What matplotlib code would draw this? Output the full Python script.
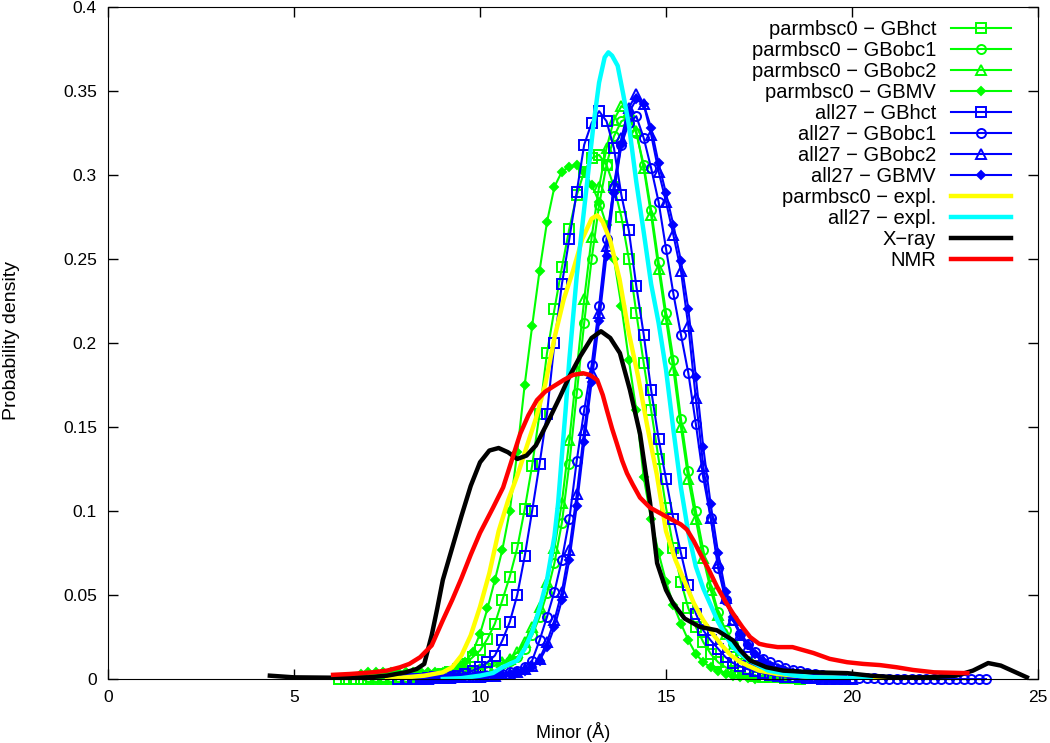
import numpy as np
import matplotlib
matplotlib.use("Agg")
import matplotlib.pyplot as plt

plt.rcParams['font.family'] = ['Liberation Sans', 'DejaVu Sans']

# sampled series (step 0.2 A), start value + y values
step = 0.2

bsc0_hct_x0 = 6.2
bsc0_hct = [0, 0, 0, 0, 0, 0, 0, 0, 0.0005, 0.0005, 0.001, 0.001, 0.0015, 0.002, 0.003, 0.004,
            0.006, 0.009, 0.013, 0.017, 0.024, 0.033, 0.047, 0.061, 0.078, 0.101, 0.127, 0.158,
            0.194, 0.22, 0.245, 0.268, 0.288, 0.302, 0.31, 0.312, 0.306, 0.293, 0.275, 0.25,
            0.218, 0.188, 0.16, 0.131, 0.102, 0.078, 0.058, 0.042, 0.031, 0.022, 0.015, 0.01,
            0.007, 0.005, 0.004, 0.003, 0.002, 0.0015, 0.001, 0.001, 0.0005, 0.0005, 0]

bsc0_obc1_x0 = 7.0
bsc0_obc1 = [0.001, 0.001, 0.001, 0.001, 0.0015, 0.0015, 0.002, 0.002, 0.0025, 0.003, 0.003,
             0.0035, 0.004, 0.0045, 0.005, 0.006, 0.007, 0.008, 0.009, 0.011, 0.013, 0.018,
             0.026, 0.037, 0.051, 0.069, 0.093, 0.128, 0.17, 0.212, 0.25, 0.282, 0.306, 0.323,
             0.332, 0.334, 0.325, 0.306, 0.279, 0.248, 0.218, 0.19, 0.155, 0.124, 0.1, 0.077,
             0.056, 0.04, 0.029, 0.021, 0.015, 0.011, 0.008, 0.006, 0.004, 0.003, 0.002, 0.0015,
             0.001, 0.0005, 0.0005]

bsc0_obc2_x0 = 7.2
bsc0_obc2 = [0.001, 0.001, 0.001, 0.0015, 0.0015, 0.002, 0.002, 0.0025, 0.003, 0.003, 0.0035,
             0.004, 0.0045, 0.005, 0.006, 0.007, 0.008, 0.01, 0.012, 0.016, 0.022, 0.031, 0.043,
             0.058, 0.078, 0.105, 0.142, 0.184, 0.226, 0.263, 0.293, 0.316, 0.333, 0.341, 0.338,
             0.326, 0.304, 0.276, 0.244, 0.214, 0.184, 0.15, 0.119, 0.095, 0.072, 0.053, 0.038,
             0.027, 0.019, 0.014, 0.01, 0.007, 0.005, 0.0035, 0.0025, 0.0015, 0.001, 0.0005]

bsc0_gbmv_x0 = 6.8
bsc0_gbmv = [0.003, 0.004, 0.004, 0.004, 0.004, 0.004, 0.004, 0.004, 0.004, 0.004, 0.004, 0.004,
             0.005, 0.007, 0.01, 0.016, 0.027, 0.042, 0.059, 0.077, 0.1, 0.135, 0.175, 0.21,
             0.243, 0.272, 0.293, 0.302, 0.305, 0.306, 0.302, 0.294, 0.284, 0.27, 0.25, 0.222,
             0.19, 0.16, 0.12, 0.095, 0.075, 0.058, 0.044, 0.033, 0.023, 0.015, 0.01, 0.007,
             0.005, 0.003, 0.002, 0.001, 0.0005, 0]

a27_hct_x0 = 7.8
a27_hct = [0, 0, 0, 0, 0.0005, 0.001, 0.001, 0.0015, 0.002, 0.003, 0.005, 0.007, 0.01, 0.014,
           0.023, 0.034, 0.05, 0.073, 0.1, 0.128, 0.158, 0.2, 0.235, 0.262, 0.29, 0.318, 0.331,
           0.338, 0.332, 0.316, 0.288, 0.267, 0.234, 0.205, 0.172, 0.143, 0.119, 0.095, 0.075,
           0.056, 0.039, 0.029, 0.023, 0.018, 0.013, 0.0095, 0.0075, 0.0058, 0.0045, 0.0035,
           0.0025, 0.002, 0.0015, 0.001, 0.001, 0.0005, 0.0005, 0, 0, 0, 0]

a27_obc1_x0 = 8.0
a27_obc1 = [0, 0, 0, 0.0005, 0.0005, 0.0005, 0.001, 0.001, 0.001, 0.0015, 0.0015, 0.002, 0.0025,
            0.003, 0.004, 0.005, 0.007, 0.011, 0.023, 0.037, 0.052, 0.071, 0.095, 0.13, 0.16,
            0.187, 0.222, 0.262, 0.293, 0.318, 0.331, 0.335, 0.322, 0.304, 0.284, 0.256, 0.229,
            0.205, 0.182, 0.152, 0.12, 0.096, 0.066, 0.047, 0.035, 0.027, 0.021, 0.016, 0.012,
            0.01, 0.0085, 0.0068, 0.0055, 0.0045, 0.0036, 0.0028, 0.0022, 0.0017, 0.0013, 0.001,
            0.0008, 0.0006, 0.0005, 0.0004, 0.0003, 0.0003, 0.0002, 0.0002, 0.0001, 0.0001,
            0, 0, 0, 0, 0, 0, 0, 0, 0]

a27_obc2_x0 = 8.2
a27_obc2 = [0, 0, 0, 0.0005, 0.0005, 0.0005, 0.001, 0.001, 0.001, 0.0015, 0.002, 0.002, 0.003,
            0.003, 0.004, 0.006, 0.008, 0.012, 0.022, 0.035, 0.052, 0.077, 0.11, 0.148, 0.182,
            0.218, 0.258, 0.294, 0.322, 0.34, 0.348, 0.342, 0.324, 0.302, 0.284, 0.264, 0.243,
            0.21, 0.167, 0.127, 0.096, 0.069, 0.048, 0.035, 0.026, 0.019, 0.014, 0.011, 0.008,
            0.006, 0.0045, 0.0035, 0.0025, 0.002, 0.0015, 0.001, 0.001, 0.0005, 0.0005, 0]

a27_gbmv_x0 = 8.4
a27_gbmv = [0, 0, 0.0005, 0.0005, 0.0005, 0.001, 0.001, 0.001, 0.0015, 0.002, 0.002, 0.0025,
            0.003, 0.004, 0.005, 0.007, 0.011, 0.019, 0.031, 0.047, 0.071, 0.103, 0.141, 0.177,
            0.213, 0.252, 0.289, 0.318, 0.337, 0.345, 0.342, 0.328, 0.307, 0.289, 0.27, 0.249,
            0.22, 0.18, 0.138, 0.104, 0.075, 0.052, 0.037, 0.027, 0.02, 0.015, 0.011, 0.008,
            0.006, 0.0045, 0.0035, 0.0025, 0.002, 0.0015, 0.001, 0.0005, 0.0005, 0]

# smooth curves (x, y)
bsc0_expl_x = [7.5, 8.0, 8.5, 9.0, 9.25, 9.5, 9.75, 10.0, 10.25, 10.5, 10.75, 11.0, 11.25, 11.5,
               11.75, 12.0, 12.25, 12.5, 12.75, 13.0, 13.15, 13.3, 13.5, 13.75, 14.0, 14.25, 14.5,
               14.75, 15.0, 15.25, 15.5, 15.75, 16.0, 16.25, 16.5, 16.75, 17.0, 17.5, 18.0, 19.0,
               20.0, 21.4]
bsc0_expl_y = [0.0, 0.001, 0.002, 0.004, 0.007, 0.014, 0.026, 0.043, 0.063, 0.088, 0.106, 0.121,
               0.138, 0.155, 0.175, 0.203, 0.226, 0.243, 0.262, 0.274, 0.276, 0.272, 0.261, 0.238,
               0.206, 0.18, 0.15, 0.122, 0.088, 0.071, 0.058, 0.045, 0.035, 0.027, 0.02, 0.014,
               0.01, 0.005, 0.003, 0.001, 0.0005, 0.0]

a27_expl_x = [9.0, 9.5, 10.0, 10.35, 10.6, 10.8, 11.0, 11.2, 11.4, 11.6, 11.8, 12.0, 12.1, 12.2,
              12.3, 12.4, 12.5, 12.6, 12.75, 12.9, 13.05, 13.2, 13.35, 13.45, 13.55, 13.7, 13.85,
              14.0, 14.2, 14.4, 14.6, 14.8, 15.0, 15.2, 15.4, 15.6, 15.8, 16.0, 16.2, 16.4, 16.6,
              16.8, 17.0, 17.25, 17.5, 17.75, 18.0, 18.5, 19.0, 20.0, 20.5]
a27_expl_y = [0.0, 0.0005, 0.002, 0.0036, 0.007, 0.009, 0.011, 0.018, 0.028, 0.042, 0.059, 0.085,
              0.105, 0.133, 0.16, 0.19, 0.215, 0.24, 0.27, 0.3, 0.33, 0.355, 0.37, 0.373, 0.371,
              0.365, 0.348, 0.33, 0.296, 0.266, 0.235, 0.212, 0.184, 0.148, 0.114, 0.087, 0.067,
              0.054, 0.044, 0.034, 0.026, 0.019, 0.015, 0.011, 0.008, 0.005, 0.004, 0.002, 0.001,
              0.0005, 0.0]

xray_x = [4.35, 5.0, 6.0, 7.0, 7.5, 8.0, 8.3, 8.5, 8.7, 8.85, 9.0, 9.25, 9.5, 9.75, 10.0, 10.25,
          10.5, 10.75, 11.0, 11.25, 11.5, 11.8, 12.15, 12.4, 12.69, 13.0, 13.25, 13.5, 13.76,
          14.03, 14.3, 14.57, 14.76, 15.0, 15.19, 15.5, 15.91, 16.37, 16.8, 17.0, 17.26, 17.7,
          18.15, 19.0, 19.87, 20.5, 21.2, 22.0, 22.8, 23.25, 23.66, 24.0, 24.4, 24.7]
xray_y = [0.002, 0.001, 0.0008, 0.001, 0.002, 0.004, 0.006, 0.009, 0.026, 0.042, 0.059, 0.078,
          0.097, 0.115, 0.129, 0.136, 0.1375, 0.135, 0.131, 0.133, 0.139, 0.152, 0.168, 0.18,
          0.192, 0.203, 0.207, 0.203, 0.194, 0.172, 0.146, 0.105, 0.069, 0.053, 0.045, 0.036,
          0.031, 0.029, 0.023, 0.017, 0.011, 0.007, 0.005, 0.004, 0.0035, 0.002, 0.001, 0.001,
          0.002, 0.005, 0.0095, 0.008, 0.004, 0.001]

nmr_x = [6.05, 6.5, 7.12, 7.5, 7.85, 8.1, 8.39, 8.7, 9.0, 9.25, 9.5, 9.75, 10.0, 10.35, 10.62,
         10.85, 11.08, 11.3, 11.53, 11.75, 11.96, 12.25, 12.5, 12.77, 12.95, 13.15, 13.3, 13.41,
         13.55, 13.68, 13.82, 13.95, 14.1, 14.3, 14.57, 14.9, 15.19, 15.4, 15.56, 15.75, 15.91,
         16.15, 16.37, 16.6, 16.8, 17.05, 17.26, 17.5, 17.7, 18.0, 18.4, 18.96, 19.4, 19.87,
         20.3, 20.75, 21.2, 21.64, 22.2, 23.1]
nmr_y = [0.0025, 0.003, 0.004, 0.005, 0.007, 0.009, 0.013, 0.02, 0.035, 0.047, 0.06, 0.074,
         0.087, 0.102, 0.114, 0.13, 0.146, 0.157, 0.166, 0.171, 0.174, 0.178, 0.181, 0.182,
         0.181, 0.178, 0.169, 0.16, 0.149, 0.14, 0.13, 0.1225, 0.116, 0.108, 0.102, 0.098,
         0.0945, 0.092, 0.089, 0.082, 0.075, 0.065, 0.055, 0.046, 0.039, 0.031, 0.025, 0.021,
         0.02, 0.019, 0.019, 0.0155, 0.012, 0.01, 0.009, 0.0083, 0.007, 0.0054, 0.004, 0.0035]

labels = ['parmbsc0 \u2212 GBhct', 'parmbsc0 \u2212 GBobc1', 'parmbsc0 \u2212 GBobc2',
          'parmbsc0 \u2212 GBMV', 'all27 \u2212 GBhct', 'all27 \u2212 GBobc1',
          'all27 \u2212 GBobc2', 'all27 \u2212 GBMV', 'parmbsc0 \u2212 expl.',
          'all27 \u2212 expl.', 'X\u2212ray', 'NMR']

xticks = [0, 5, 10, 15, 20, 25]
yticks = [0, 0.05, 0.1, 0.15, 0.2, 0.25, 0.3, 0.35, 0.4]
ytick_labels = ['0', '0.05', '0.1', '0.15', '0.2', '0.25', '0.3', '0.35', '0.4']

green = '#00ff00'
blue = '#0000ff'

fig = plt.figure(figsize=(10.5, 7.43), dpi=100)
ax = fig.add_axes([0.1029, 0.0861, 0.8857, 0.9045])

marked = [
    (bsc0_hct_x0, bsc0_hct, green, 's', 6.5, 'none'),
    (bsc0_obc1_x0, bsc0_obc1, green, 'o', 6.5, 'none'),
    (bsc0_obc2_x0, bsc0_obc2, green, '^', 7, 'none'),
    (bsc0_gbmv_x0, bsc0_gbmv, green, 'D', 3.8, green),
    (a27_hct_x0, a27_hct, blue, 's', 6.5, 'none'),
    (a27_obc1_x0, a27_obc1, blue, 'o', 6.5, 'none'),
    (a27_obc2_x0, a27_obc2, blue, '^', 7, 'none'),
    (a27_gbmv_x0, a27_gbmv, blue, 'D', 3.8, blue),
]
for i, (x0, yv, c, m, ms, fc) in enumerate(marked):
    xv = x0 + step * np.arange(len(yv))
    ax.plot(xv, yv, color=c, lw=1.5, marker=m, ms=ms, mfc=fc, mec=c, mew=1.4,
            label=labels[i], clip_on=False)

ax.plot(bsc0_expl_x, bsc0_expl_y, color='#ffff00', lw=3.2, label=labels[8])
ax.plot(a27_expl_x, a27_expl_y, color='#00ffff', lw=3.2, label=labels[9])
ax.plot(xray_x, xray_y, color='black', lw=3.2, label=labels[10], clip_on=False)
ax.plot(nmr_x, nmr_y, color='#ff0000', lw=3.2, label=labels[11])

ax.set_xlim(0, 25)
ax.set_ylim(0, 0.4)
ax.set_xticks(xticks)
ax.set_yticks(yticks)
ax.set_yticklabels(ytick_labels)
ax.tick_params(direction='in', top=True, right=True, length=7, width=1, labelsize=12.5, pad=8)
ax.set_xlabel('Minor (\u00c5)', fontsize=13, labelpad=12)
fig.text(0.011, 0.542, 'Probability density', rotation=90, ha='center', va='center',
         fontsize=14)

ax.legend(loc='upper right', bbox_to_anchor=(0.9796, 0.993), borderaxespad=0,
          frameon=False, markerfirst=False, numpoints=1, fontsize=14.5,
          handlelength=3.0, handletextpad=0.72, labelspacing=0.1)

fig.savefig('out.png', dpi=100)
